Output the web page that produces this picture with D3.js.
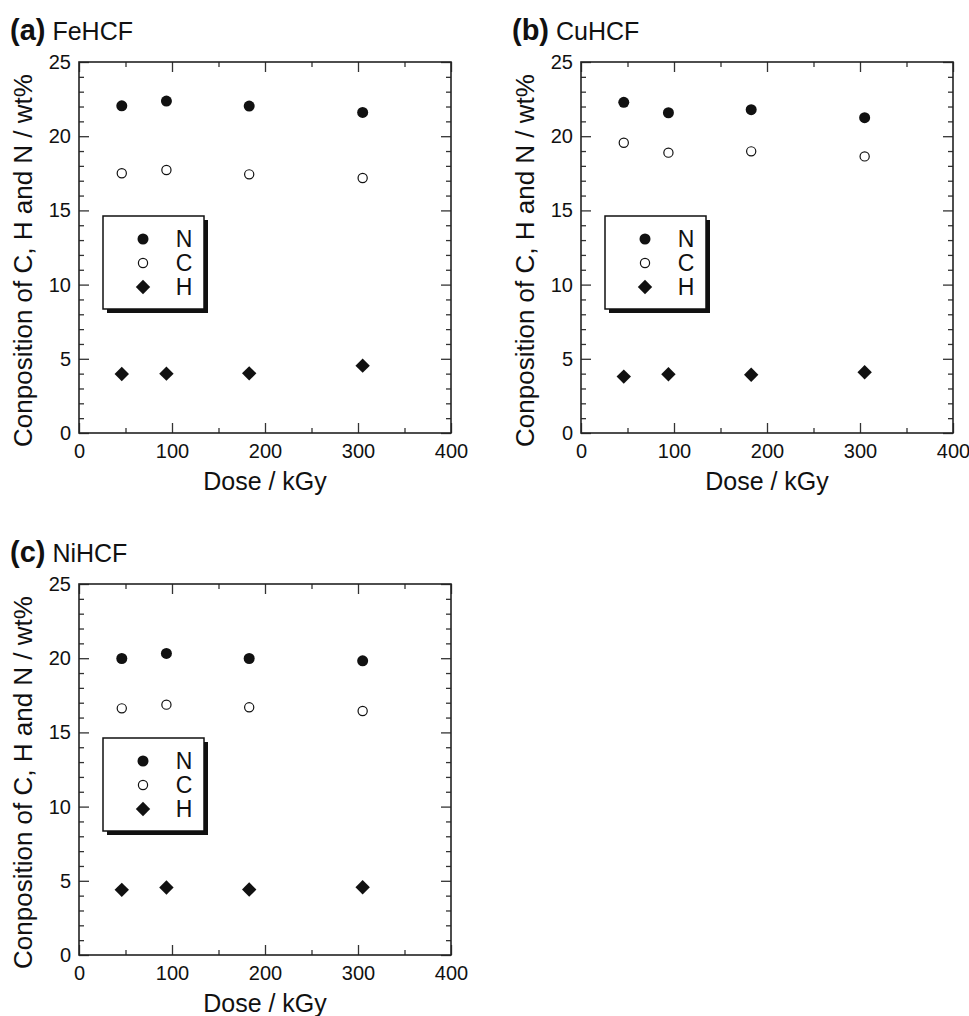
<!DOCTYPE html>
<html>
<head>
<meta charset="utf-8">
<script src="https://cdn.jsdelivr.net/npm/d3@7"></script>
<style>
  body { margin: 0; background: #fff; }
  svg text { font-family: "Liberation Sans", Arial, Helvetica, sans-serif; fill: #111; }
</style>
</head>
<body>
<svg id="chart" width="969" height="1016"></svg>
<script>
// doses are the same for every sample
const doses = [46, 94, 183, 305];

// values, wt%
const feN = [22.05, 22.37, 22.03, 21.6];
const feC = [17.5, 17.72, 17.43, 17.18];
const feH = [3.98, 4.0, 4.02, 4.54];

const cuN = [22.28, 21.58, 21.79, 21.25];
const cuC = [19.56, 18.89, 18.98, 18.64];
const cuH = [3.8, 3.96, 3.93, 4.09];

const niN = [19.98, 20.32, 19.98, 19.82];
const niC = [16.62, 16.87, 16.69, 16.44];
const niH = [4.39, 4.55, 4.41, 4.57];

const xMajor = [0, 100, 200, 300, 400];
const xMinor = [50, 150, 250, 350];
const yMajor = [0, 5, 10, 15, 20, 25];
const yMinor = d3.range(0, 26).filter(v => v % 5 !== 0);

const legendLabels = ['N', 'C', 'H'];

const panels = [
  {letter: '(a)', name: 'FeHCF', N: feN, C: feC, H: feH, left: 79, top: 62},
  {letter: '(b)', name: 'CuHCF', N: cuN, C: cuC, H: cuH, left: 581, top: 62},
  {letter: '(c)', name: 'NiHCF', N: niN, C: niC, H: niH, left: 79, top: 584}
];

const W = 372, H = 371;
const svg = d3.select('#chart');

const diamondPath = 'M0,-7.2L7.2,0L0,7.2L-7.2,0Z';

function drawMarker(g, kind, cx, cy) {
  if (kind === 'N') {
    g.append('circle').attr('cx', cx).attr('cy', cy).attr('r', 5.5).attr('fill', '#111');
  } else if (kind === 'C') {
    g.append('circle').attr('cx', cx).attr('cy', cy).attr('r', 4.6)
      .attr('fill', '#fff').attr('stroke', '#111').attr('stroke-width', 1.2);
  } else {
    g.append('path').attr('d', diamondPath).attr('transform', `translate(${cx},${cy})`).attr('fill', '#111');
  }
}

function styleAxis(sel) {
  sel.select('.domain').remove();
  sel.selectAll('.tick line').attr('stroke', '#333').attr('stroke-width', 1.3);
  sel.selectAll('.tick text').style('font-size', '20px');
}

function drawPanel(p) {
  const g = svg.append('g').attr('transform', `translate(${p.left},${p.top})`);

  const x = d3.scaleLinear().domain([0, 400]).range([0, W]);
  const y = d3.scaleLinear().domain([0, 25]).range([H, 0]);

  // title, sits above the y-axis title
  const t = g.append('text').attr('x', -69).attr('y', -22);
  t.append('tspan').text(p.letter).style('font-weight', 'bold').style('font-size', '29px');
  t.append('tspan').text(' ' + p.name).style('font-size', '25px');

  // ticks, all pointing inward
  g.append('g').attr('transform', `translate(0,${H})`)
    .call(d3.axisBottom(x).tickValues(xMajor).tickSize(-10).tickPadding(11).tickFormat(d3.format('d')))
    .call(styleAxis);
  g.append('g').attr('transform', `translate(0,${H})`)
    .call(d3.axisBottom(x).tickValues(xMinor).tickSize(-5).tickFormat(''))
    .call(styleAxis);
  g.append('g')
    .call(d3.axisTop(x).tickValues(xMajor).tickSize(-10).tickFormat(''))
    .call(styleAxis);
  g.append('g')
    .call(d3.axisTop(x).tickValues(xMinor).tickSize(-5).tickFormat(''))
    .call(styleAxis);
  g.append('g')
    .call(d3.axisLeft(y).tickValues(yMajor).tickSize(-10).tickPadding(8).tickFormat(d3.format('d')))
    .call(styleAxis);
  g.append('g')
    .call(d3.axisLeft(y).tickValues(yMinor).tickSize(-5).tickFormat(''))
    .call(styleAxis);
  g.append('g').attr('transform', `translate(${W},0)`)
    .call(d3.axisRight(y).tickValues(yMajor).tickSize(-10).tickFormat(''))
    .call(styleAxis);
  g.append('g').attr('transform', `translate(${W},0)`)
    .call(d3.axisRight(y).tickValues(yMinor).tickSize(-5).tickFormat(''))
    .call(styleAxis);

  g.append('rect').attr('width', W).attr('height', H)
    .attr('fill', 'none').attr('stroke', '#222').attr('stroke-width', 1.6);

  // axis titles
  g.append('text').attr('x', W / 2).attr('y', H + 57)
    .attr('text-anchor', 'middle').style('font-size', '25px').text('Dose / kGy');
  g.append('text')
    .attr('transform', `translate(-47,${H / 2 + 13}) rotate(-90)`)
    .attr('text-anchor', 'middle').style('font-size', '26px')
    .text('Conposition of C, H and N / wt%');

  // data
  const pts = g.append('g');
  ['N', 'C', 'H'].forEach(k => {
    p[k].forEach((v, i) => drawMarker(pts, k, x(doses[i]), y(v)));
  });

  // legend with drop shadow
  const lg = g.append('g').attr('transform', 'translate(24,154)');
  lg.append('rect').attr('x', 4).attr('y', 4).attr('width', 101).attr('height', 93).attr('fill', '#111');
  lg.append('rect').attr('width', 101).attr('height', 93)
    .attr('fill', '#fff').attr('stroke', '#111').attr('stroke-width', 1.5);
  legendLabels.forEach((k, i) => {
    const cy = 23 + i * 24;
    drawMarker(lg, k, 40, cy);
    lg.append('text').attr('x', 81).attr('y', cy).attr('dy', '0.36em')
      .attr('text-anchor', 'middle').style('font-size', '23px').text(k);
  });
}

panels.forEach(drawPanel);
</script>
</body>
</html>
